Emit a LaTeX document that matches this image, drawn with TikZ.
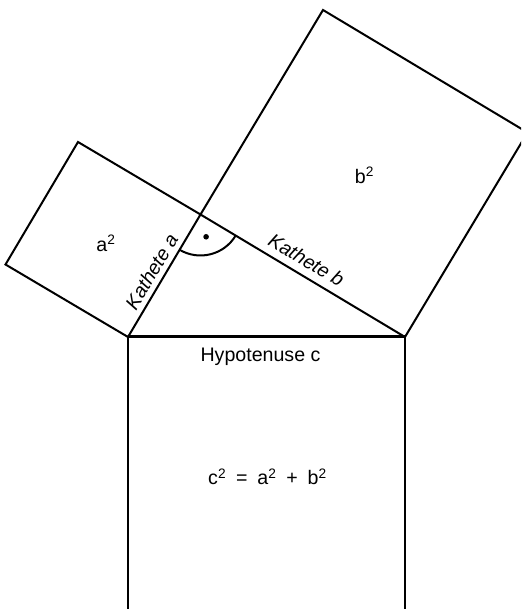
\documentclass[tikz,border=0pt]{standalone}
\usepackage{fontspec}
\setmainfont{Liberation Sans}
\usetikzlibrary{calc}
\newcommand{\sqr}{\textsuperscript{2}}
\begin{document}
\begin{tikzpicture}[x=0.75pt,y=0.75pt,
  edge/.style={line width=1.5pt,line join=miter},
  hyp/.style={line width=2.25pt},
  lbl/.style={inner sep=0pt,font=\fontsize{14.7pt}{17pt}\selectfont},
  kat/.style={inner sep=0pt,font=\fontsize{14.7pt}{17pt}\selectfont\itshape}]
\useasboundingbox (0,0) rectangle (521,609);
\clip (0,0) rectangle (521,609);
% triangle vertices
\coordinate (A) at (128,272);
\coordinate (B) at (405,272);
\coordinate (C) at (200.5,394.5);
% square on a
\coordinate (D) at (5.5,344.5);
\coordinate (E) at (78,467);
% square on b
\coordinate (F) at (527.5,476.5);
\coordinate (G) at (323,599);
% square on c
\coordinate (H) at (128,-5);
\coordinate (I) at (405,-5);
\draw[edge] (A) -- (D) -- (E) -- (C) -- cycle;
\draw[edge] (C) -- (G) -- (F) -- (B) -- cycle;
\draw[edge] (B) -- (I) -- (H) -- (A);
\draw[hyp] (A) -- (B);
% right angle mark
\draw[line width=1.5pt] ($(C)+(239.4:30.75pt)$) arc[start angle=239.4,end angle=329.1,radius=30.75pt];
\fill (206.1,372.2) circle[radius=2.1pt];
% labels
\node[lbl,anchor=base] (hyptext) at (260.5,247.3) {Hypotenuse c};
\node[lbl,anchor=base] (eq) at (267.5,124) {c\sqr\hspace{0.5em}=\hspace{0.5em}a\sqr\hspace{0.5em}+\hspace{0.5em}b\sqr};
\node[lbl,anchor=base] (asq) at (106,357.3) {a\sqr};
\node[lbl,anchor=base] (bsq) at (364.5,425.7) {b\sqr};
\node[kat,rotate=-30.9] (kb) at (306.5,349) {Kathete b};
\node[kat,rotate=59.4] (ka) at (151.5,337.5) {Kathete a};
\end{tikzpicture}
\end{document}
